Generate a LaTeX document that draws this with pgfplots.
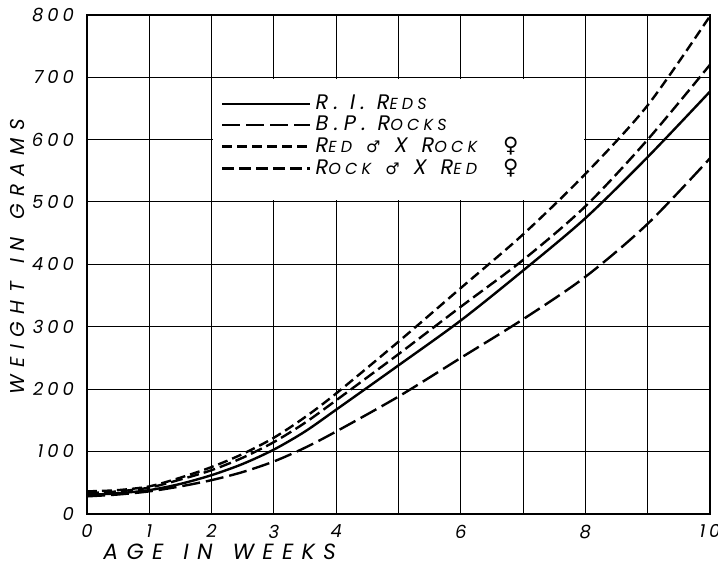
\documentclass[border=0pt]{standalone}
\usepackage{fontspec}
\usepackage{pgfplots}
\pgfplotsset{compat=1.18}
\setmainfont{Poppins Italic}
\newfontfamily\lett{Poppins Italic}[LetterSpace=22]
\newfontfamily\legfont{Poppins Italic}[LetterSpace=26]
\newfontfamily\labfont{Poppins Italic}[LetterSpace=38]
\newfontfamily\xlabfont{Poppins Italic}[LetterSpace=38]
\newfontfamily\sym{DejaVu Sans}
\newcommand\sm[1]{{\fontsize{8}{8}\selectfont #1}}
\newcommand\gap{\kern7pt}

\begin{document}
\begin{tikzpicture}
\begin{axis}[
    scale only axis,
    width=311.5pt, height=249.5pt,
    xmin=0, xmax=10, ymin=0, ymax=800,
    clip=false,
    xtick={0,...,10},
    xticklabels={0,1,2,3,4,,6,,8,,10},
    ytick={0,100,...,800},
    major tick length=0pt,
    grid=major,
    major grid style={black, line width=0.5pt},
    axis line style={line width=1.1pt},
    /pgf/number format/assume math mode=true,
    ticklabel style={font=\lett\fontsize{9}{10}\selectfont},
    yticklabel style={xshift=-3pt},
    xticklabel style={yshift=-2pt},
    xlabel={AGE\kern10pt IN\kern10pt WEEKS},
    ylabel={WEIGHT\kern9pt IN\kern9pt GRAMS},
    xlabel style={font=\xlabfont\fontsize{11}{12}\selectfont,
        at={(axis description cs:0.213,-0.077)}, anchor=center},
    ylabel style={font=\labfont\fontsize{10}{11}\selectfont,
        at={(axis description cs:-0.112,0.515)}, anchor=center, rotate=0},
    legend style={at={(0.205,0.856)}, anchor=north west, draw=none, fill=none,
        font=\legfont\fontsize{10.5}{10}\selectfont, row sep=-2.2pt},
    legend cell align=left,
    legend image code/.code={\draw[line width=1.3pt, #1] (0pt,0pt) -- (44pt,0pt);},
    every axis plot/.append style={black, line width=1.2pt, smooth, tension=0.5},
]
% white panel behind the key
\fill[white] (axis cs:2.02,503) rectangle (axis cs:7.98,697);

\addplot[solid] coordinates {
    (0,30) (0.5,33) (1,38) (1.5,48) (2,62) (2.5,80) (3,103) (3.5,132) (4,167)
    (5,238) (6,310) (7,390) (8,474) (9,572) (10,677)};
\addlegendentry{R. I. R\sm{EDS}}
\addplot[dash pattern=on 9pt off 3pt] coordinates {
    (0,28) (0.5,31) (1,36) (1.5,44) (2,54) (2.5,67) (3,84) (3.5,106) (4,132)
    (5,188) (6,250) (7,312) (8,380) (9,465) (10,570)};
\addlegendentry{B.P. R\sm{OCKS}}
\addplot[dash pattern=on 5pt off 2.5pt] coordinates {
    (0,36) (0.5,38) (1,44) (1.5,58) (2,75) (2.5,96) (3,122) (3.5,155) (4,193)
    (5,276) (6,362) (7,448) (8,545) (9,655) (10,798)};
\addlegendentry{R\sm{ED}\gap{\sym\sm{♂}}\gap X\gap R\sm{OCK}\kern13pt{\sym ♀}}
\addplot[dash pattern=on 6pt off 2.5pt] coordinates {
    (0,33) (0.5,36) (1,42) (1.5,55) (2,70) (2.5,90) (3,115) (3.5,146) (4,182)
    (5,256) (6,332) (7,407) (8,493) (9,600) (10,720)};
\addlegendentry{R\sm{OCK}\gap{\sym\sm{♂}}\gap X\gap R\sm{ED}\kern13pt{\sym ♀}}

\coordinate (BL) at (axis cs:-1.396,-84.9);
\coordinate (TR) at (axis cs:10.128,823.7);
\end{axis}
\pgfresetboundingbox
\useasboundingbox (BL) rectangle (TR);
\end{tikzpicture}
\end{document}
